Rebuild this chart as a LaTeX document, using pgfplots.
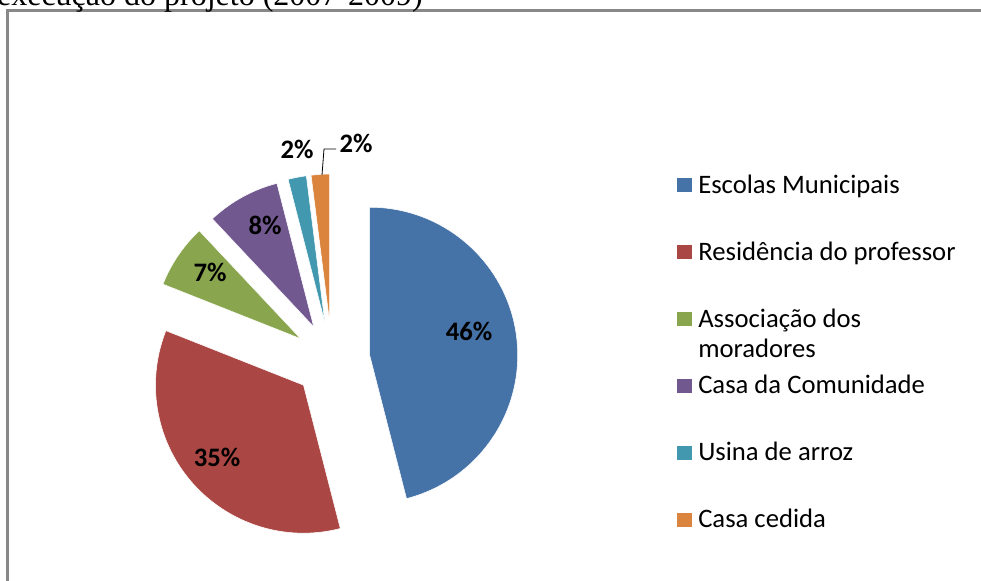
\documentclass[border=0pt]{standalone}
\usepackage{pgfplots}
\pgfplotsset{compat=1.18}
\usepackage{pgfplotstable}
\usepackage{fontspec}
\setmainfont{Carlito}
\newfontfamily\titlefont{Liberation Serif}
\definecolor{slice0}{HTML}{4572A7}
\definecolor{slice1}{HTML}{AA4643}
\definecolor{slice2}{HTML}{89A54E}
\definecolor{slice3}{HTML}{71588F}
\definecolor{slice4}{HTML}{4198AF}
\definecolor{slice5}{HTML}{DB843D}
\definecolor{framegray}{RGB}{136,136,136}
\pgfplotstableread{
pct expl
46 38
35 38
7 38
8 38
2 38
2 38
}\piedata
\begin{document}
\begin{tikzpicture}
\begin{axis}[at={(0,0)}, anchor=north west, scale only axis,
  width=735.75pt, height=435.75pt,
  xmin=0, xmax=981, ymin=0, ymax=581, y dir=reverse,
  hide axis, clip=false]
\pgfplotsextra{%
  \gdef\cum{0}%
  \pgfplotsforeachungrouped \i in {0,...,5}{%
    \pgfplotstablegetelem{\i}{pct}\of\piedata
    \let\pv=\pgfplotsretval
    \pgfplotstablegetelem{\i}{expl}\of\piedata
    \let\ev=\pgfplotsretval
    \pgfmathsetmacro\ta{\cum*3.6}%
    \pgfmathsetmacro\tb{(\cum+\pv)*3.6}%
    \pgfmathsetmacro\tm{(\ta+\tb)/2}%
    \pgfmathsetmacro\cx{332+\ev*sin(\tm)}%
    \pgfmathsetmacro\cy{360-\ev*cos(\tm)}%
    \pgfmathsetmacro\sa{90-\ta}%
    \pgfmathsetmacro\ea{90-\tb}%
    \fill[fill=slice\i, draw=white, line width=0.4pt] (axis cs:\cx,\cy) -- ++(\sa:111pt) arc[start angle=\sa, end angle=\ea, radius=111pt] -- cycle;
    \pgfmathsetmacro\newcum{\cum+\pv}%
    \global\let\cum\newcum
  }%
}
% frame
\draw[framegray, line width=2pt] (axis cs:7.5,600) -- (axis cs:7.5,10.5) -- (axis cs:1000,10.5);
% title (cut)
\node[anchor=base east, inner sep=0pt, font=\titlefont\fontsize{24}{28}\selectfont] at (axis cs:423,5) {execução do projeto (2007-2009)};
% data labels
\begin{scope}[every node/.style={font=\bfseries\fontsize{20}{24}\selectfont, inner sep=0pt}]
\node at (axis cs:469,331) {46\%};
\node at (axis cs:217,457) {35\%};
\node at (axis cs:210,272) {7\%};
\node at (axis cs:265,225) {8\%};
\node at (axis cs:297,149) {2\%};
\node at (axis cs:356,143) {2\%};
\end{scope}
\draw[black, line width=0.6pt] (axis cs:322,175) -- (axis cs:324,149) -- (axis cs:336,149);
% legend
\begin{scope}[every node/.style={font=\fontsize{20}{24}\selectfont, inner sep=0pt, anchor=base west}]
\fill[slice0] (axis cs:677,178) rectangle (axis cs:692,192);
\node at (axis cs:698,193) {Escolas Municipais};
\fill[slice1] (axis cs:677,245) rectangle (axis cs:692,259);
\node at (axis cs:698,260) {Residência do professor};
\fill[slice2] (axis cs:677,312) rectangle (axis cs:692,326);
\node at (axis cs:698,327) {Associação dos};
\node at (axis cs:698,357) {moradores};
\fill[slice3] (axis cs:677,379) rectangle (axis cs:692,393);
\node at (axis cs:698,393) {Casa da Comunidade};
\fill[slice4] (axis cs:677,446) rectangle (axis cs:692,460);
\node at (axis cs:698,460) {Usina de arroz};
\fill[slice5] (axis cs:677,513) rectangle (axis cs:692,527);
\node at (axis cs:698,527) {Casa cedida};
\end{scope}
\end{axis}
\pgfresetboundingbox
\useasboundingbox (0,0) rectangle (735.75pt,-435.75pt);
\end{tikzpicture}
\end{document}
